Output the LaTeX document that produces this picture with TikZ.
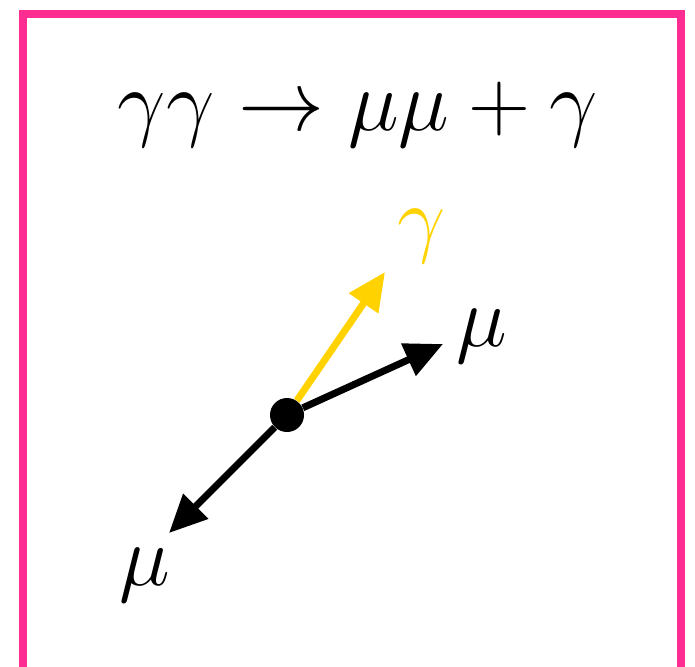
\RequirePackage{fix-cm}
\documentclass[tikz,border=0pt]{standalone}
\usetikzlibrary{arrows.meta}
\definecolor{framepink}{RGB}{255,45,145}
\definecolor{photongold}{RGB}{255,210,0}

\begin{document}
\begin{tikzpicture}[x=0.5pt,y=-0.5pt,
  lbl/.style={inner sep=0pt,font=\fontsize{43}{48}\selectfont},
  track/.style={line width=3.5pt,-{Triangle[length=19pt,width=17pt]}}]
\clip (0,0) rectangle (695,666);
\draw[framepink,line width=4pt] (22.5,700) -- (22.5,14) -- (681,14) -- (681,700);

\node[lbl,anchor=base] (title) at (358,130) {$\gamma\gamma \rightarrow \mu\mu + \gamma$};

\node[circle,fill,inner sep=0pt,minimum size=17pt] (vtx) at (287,415) {};
\coordinate (tipg) at (385,272);
\coordinate (tipr) at (443,344);
\coordinate (tipl) at (169,533);

\draw[track,photongold] (vtx) -- (tipg);
\draw[track] (vtx) -- (tipr);
\draw[track] (vtx) -- (tipl);

\node[lbl,photongold] (gam) at (422,236) {$\gamma$};
\node[lbl] (mur) at (482,336) {$\mu$};
\node[lbl] (mul) at (145,575) {$\mu$};
\end{tikzpicture}
\end{document}
